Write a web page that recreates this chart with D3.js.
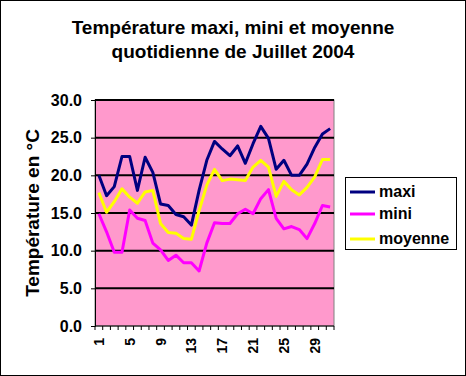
<!DOCTYPE html>
<html>
<head>
<meta charset="utf-8">
<script src="https://cdn.jsdelivr.net/npm/d3@7"></script>
<style>
  body { margin: 0; background: #fff; }
  svg text { font-family: "Liberation Sans", Arial, sans-serif; font-weight: bold; fill: #000; }
</style>
</head>
<body>
<svg id="chart" width="466" height="376"></svg>
<script>
// jours de juillet
var days = d3.range(1, 32);
var tickLabels = [1, 5, 9, 13, 17, 21, 25, 29];
var yTicks = [0, 5, 10, 15, 20, 25, 30];

var maxi = [20.0, 17.3, 18.5, 22.5, 22.5, 18.0, 22.4, 20.4, 16.2, 16.0, 14.8,
            14.5, 13.4, 18.0, 22.0, 24.5, 23.5, 22.6, 23.9, 21.6, 24.2, 26.5,
            24.9, 20.8, 22.0, 20.0, 20.0, 21.5, 23.7, 25.5, 26.2];
var mini = [14.9, 12.5, 9.8, 9.8, 15.4, 14.3, 14.0, 11.0, 10.1, 8.7, 9.4,
            8.4, 8.4, 7.3, 11.0, 13.7, 13.6, 13.6, 14.9, 15.5, 14.9, 16.9,
            18.1, 14.3, 12.9, 13.2, 12.8, 11.6, 13.6, 16.0, 15.8];
var moyenne = [17.7, 15.1, 16.5, 18.2, 17.1, 16.3, 17.8, 18.0, 13.6, 12.4, 12.3,
               11.6, 11.5, 15.3, 18.7, 20.8, 19.3, 19.5, 19.4, 19.3, 21.1, 22.0,
               21.1, 17.2, 19.2, 18.1, 17.4, 18.4, 19.8, 22.1, 22.1];

var seriesNames = ["maxi", "mini", "moyenne"];
var seriesData = [maxi, mini, moyenne];
var seriesColors = ["#000080", "#FF00FF", "#FFFF00"];

var svg = d3.select("#chart");

// cadre du graphique
svg.append("rect")
    .attr("x", 0.5).attr("y", 0.5)
    .attr("width", 465).attr("height", 375)
    .style("fill", "#fff").style("stroke", "#000");

// titre
svg.append("text").attr("x", 233).attr("y", 34)
    .attr("text-anchor", "middle").style("font-size", "19px")
    .text("Température maxi, mini et moyenne");
svg.append("text").attr("x", 233).attr("y", 58)
    .attr("text-anchor", "middle").style("font-size", "19px")
    .text("quotidienne de Juillet 2004");

// ("top" est réservé par window, d'où plotTop)
var plotLeft = 95, plotRight = 334, plotTop = 100, plotBottom = 326;

var x = d3.scaleBand().domain(days).range([plotLeft, plotRight]);
var y = d3.scaleLinear().domain([0, 30]).range([plotBottom, plotTop]);

// zone de tracé
svg.append("rect")
    .attr("x", plotLeft).attr("y", plotTop)
    .attr("width", plotRight - plotLeft).attr("height", plotBottom - plotTop)
    .style("fill", "#FF99CC").style("stroke", "#808080");

// quadrillage
svg.append("g").selectAll("line")
    .data(yTicks.filter(function(d) { return d > 0; }))
    .enter().append("line")
    .attr("x1", plotLeft).attr("x2", plotRight)
    .attr("y1", function(d) { return y(d); })
    .attr("y2", function(d) { return y(d); })
    .style("stroke", "#000").style("stroke-width", 2);

// axe Y
var yAxis = svg.append("g")
    .attr("transform", "translate(" + plotLeft + ",0)")
    .call(d3.axisLeft(y).tickValues(yTicks).tickFormat(d3.format(".1f")).tickSize(4).tickPadding(9));
yAxis.selectAll("text").style("font-size", "16px");
yAxis.selectAll("line, path").style("stroke", "#000");

// axe X : graduations entre les catégories
var xAxis = svg.append("g")
    .attr("transform", "translate(0," + plotBottom + ")");
xAxis.append("line")
    .attr("x1", plotLeft).attr("x2", plotRight)
    .style("stroke", "#000");
xAxis.selectAll("line.tick")
    .data(d3.range(0, days.length + 1))
    .enter().append("line")
    .attr("class", "tick")
    .attr("x1", function(i) { return plotLeft + i * x.bandwidth(); })
    .attr("x2", function(i) { return plotLeft + i * x.bandwidth(); })
    .attr("y1", 0).attr("y2", 4)
    .style("stroke", "#000");
xAxis.selectAll("text")
    .data(tickLabels)
    .enter().append("text")
    .attr("transform", function(d) {
        return "translate(" + (x(d) + x.bandwidth() / 2 + 5) + ",12) rotate(-90)";
    })
    .attr("text-anchor", "end")
    .style("font-size", "14px")
    .text(function(d) { return d; });

// titre de l'axe Y
svg.append("text")
    .attr("transform", "translate(39," + ((plotTop + plotBottom) / 2) + ") rotate(-90)")
    .attr("text-anchor", "middle")
    .style("font-size", "19px")
    .text("Température en °C");

// courbes
var line = d3.line()
    .x(function(d, i) { return x(days[i]) + x.bandwidth() / 2; })
    .y(function(d) { return y(d); });

svg.append("g").selectAll("path")
    .data(seriesData)
    .enter().append("path")
    .attr("d", line)
    .style("fill", "none")
    .style("stroke", function(d, i) { return seriesColors[i]; })
    .style("stroke-width", 3)
    .style("stroke-linejoin", "round");

// légende
var legend = svg.append("g");
legend.append("rect")
    .attr("x", 345.5).attr("y", 177.5)
    .attr("width", 111).attr("height", 72)
    .style("fill", "#fff").style("stroke", "#000");
var rowsY = [192, 214, 239];
var item = legend.selectAll("g.item")
    .data(seriesNames)
    .enter().append("g").attr("class", "item");
item.append("line")
    .attr("x1", 350).attr("x2", 375)
    .attr("y1", function(d, i) { return rowsY[i]; })
    .attr("y2", function(d, i) { return rowsY[i]; })
    .style("stroke", function(d, i) { return seriesColors[i]; })
    .style("stroke-width", 3);
item.append("text")
    .attr("x", 379)
    .attr("y", function(d, i) { return rowsY[i] + 5; })
    .style("font-size", "16px")
    .text(function(d) { return d; });
</script>
</body>
</html>
